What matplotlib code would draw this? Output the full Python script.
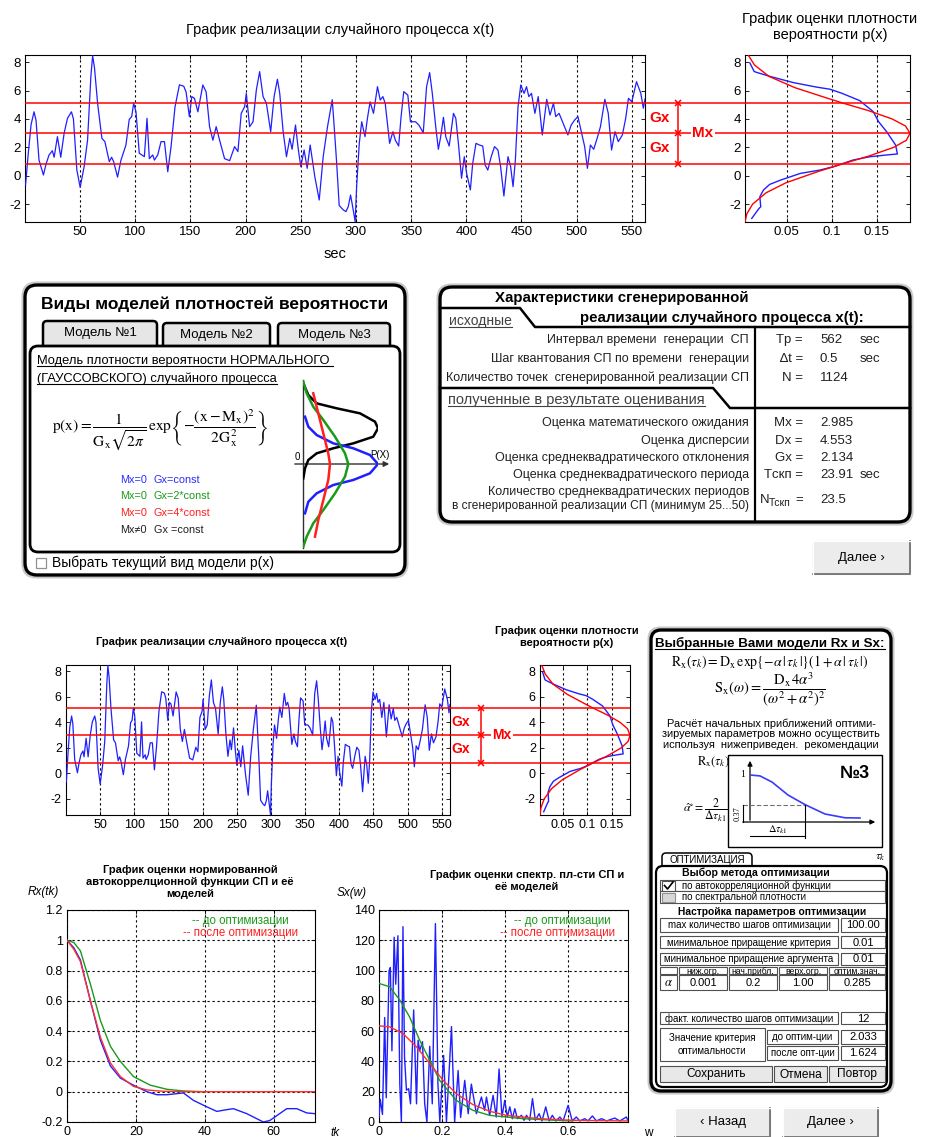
import matplotlib
matplotlib.use('Agg')
import matplotlib.pyplot as plt
from matplotlib.patches import FancyBboxPatch, Rectangle
from matplotlib.ticker import FormatStrFormatter, MultipleLocator

plt.rcParams['font.family'] = ['Liberation Sans', 'DejaVu Sans']
plt.rcParams['mathtext.fontset'] = 'stix'
plt.rcParams['axes.unicode_minus'] = False

W, H = 925, 1137

# --- realization x(t), sec / value (turning points) ---
t_sec = [0.5, 3, 5.5, 8.2, 10, 12.7, 16.7, 19, 21.8, 24.8, 26.4, 29.4, 32.4, 35.5, 38.5,
         42.1, 43.9, 47, 50, 53.6, 56.7, 59.7, 61.3, 63, 65.8, 69.7, 72.4, 76.4, 78.5, 80.3,
         83.9, 87, 91.5, 94.5, 96.7, 98.5, 100.6, 103.6, 108.2, 110.6, 112.7, 115.8, 117.3,
         120.3, 123.3, 126.4, 129.4, 132.4, 136, 140, 143.9, 146, 149, 151.2, 153.6, 156.7,
         161.2, 164.2, 167.3, 170.3, 173.3, 176.4, 180.9, 185.5, 190, 193, 196, 199.1, 200.6,
         203.6, 206.7, 209.7, 212.7, 215.8, 218.8, 222.7, 225.8, 228.8, 230.9, 234, 237, 240,
         242.1, 245.2, 247.6, 250, 253, 255.8, 258.5, 262.7, 266.7, 270.3, 274.2, 278.5,
         280.5, 282.5, 284.8, 288.4, 290.9, 293, 295.1, 297, 299.3, 300.6, 303, 305.2, 308.2,
         310.4, 312.8, 315.9, 319.5, 322, 324.4, 326.5, 330.5, 333.5, 335.7, 338.7, 340.9,
         343.3, 347, 349.4, 354, 357, 361, 364, 366.8, 369.2, 372.3, 374.7, 376.8, 379.3,
         381.4, 384.5, 388.4, 390.5, 393, 395.7, 398.2, 400.3, 403.7, 405.8, 408.8, 411.9,
         414.9, 417.1, 419.5, 422.6, 425.6, 428.7, 431.1, 434.1, 437.8, 440.2, 442.4, 444.5,
         446.9, 449.4, 452.4, 454.6, 456.7, 459.1, 462.2, 465.2, 468.9, 472.9, 475.9, 479,
         481.1, 484.1, 487.2, 492.1, 495.1, 498.2, 501.2, 504.3, 507.3, 509.8, 512.5, 515.5,
         518.6, 521.6, 525.6, 528.7, 531.7, 534.8, 537.8, 541.5, 544.5, 547, 550, 554.3,
         558.2, 560.5, 562]
x_val = [-0.65, 1.6, 3.6, 4.5, 3.9, 1.1, 0.05, 0.8, 1.46, 1.76, 1.3, 2.75, 1.3, 3.0, 4.04,
         4.5, 4.0, 0.4, -0.82, 0.64, 2.5, 6.98, 8.45, 7.6, 5.1, 2.63, 2.4, 0.99, 1.3, 1.0,
         -0.1, 1.1, 2.16, 3.97, 4.16, 5.1, 4.5, 1.58, 1.34, 4.04, 1.2, 1.46, 1.1,
         1.46, 2.4, 2.4, 0.28, 2.05, 4.86, 6.4, 6.3, 5.9, 4.16, 5.57, 5.45, 4.5,
         6.39, 5.9, 3.45, 2.5, 3.45, 2.5, 1.2, 1.06, 2.05, 1.7, 4.39, 4.86, 5.8,
         3.45, 3.8, 6.04, 7.33, 5.57, 5.1, 3.1, 5.57, 6.79, 5.8, 3.1, 1.34, 2.63,
         1.86, 3.57, 1.93, 0.64, 1.81, 0.52, 2.16, -0.07, -1.71, 1.34, 3.45, 5.35,
         3.2, 0.9, -2.1, -2.4, -2.53, -2.18, -1.36, -2.18, -3.24, -0.77, 2.28, 3.8, 2.75,
         4.04, 5.2, 4.39, 6.27, 5.33, 5.57, 5.1, 2.28, 3.1, 2.5, 2.09, 4.16,
         5.92, 5.68, 3.8, 3.8, 3.57, 3.03, 6.27, 7.26, 5.8, 3.45, 1.86, 2.75, 4.11,
         2.75, 2.09, 4.39, 4.04, 2.16, -0.18, 1.34, 0.17, -1.0, 0.85, 2.28, 2.16,
         2.09, 0.75, 0.4, 1.34, 2.05, 1.81, 0.64, -1.43, 1.34, 0.64, -0.77, 1.11,
         4.86, 6.39, 5.8, 6.27, 5.57, 5.8, 4.39, 5.57, 2.87, 5.38, 4.27, 5.1,
         4.16, 4.39, 3.8, 2.87, 3.57, 3.92, 4.16, 3.1, 2.05, 0.52, 2.16, 1.86,
         2.63, 3.45, 5.38, 4.39, 1.81, 3.1, 2.4, 2.87, 4.04, 5.45, 5.2, 6.62,
         5.8, 4.75, 5.4]

# --- probability density estimate (blue) and normal model (red) ---
hist_p = [0.009, 0.0137, 0.0167, 0.0315, 0.057, 0.083, 0.098, 0.111, 0.131, 0.146, 0.152,
          0.161, 0.171, 0.173, 0.161, 0.143, 0.124, 0.102, 0.087, 0.065, 0.043, 0.031,
          0.024, 0.020, 0.021, 0.019, 0.015, 0.011]
hist_x = [7.93, 7.34, 7.27, 6.99, 6.56, 6.24, 6.09, 5.81, 5.29, 4.52, 3.81,
          3.1, 2.16, 1.53, 1.46, 1.34, 1.11, 0.64, 0.4, 0.16, -0.31, -0.61,
          -1.01, -1.48, -2.19, -2.31, -2.66, -3.01]
norm_p = [0.007, 0.014, 0.03, 0.059, 0.093, 0.113, 0.140, 0.167, 0.182, 0.187, 0.183,
          0.169, 0.142, 0.113, 0.085, 0.049, 0.027, 0.012, 0.0054, 0.0036]
norm_x = [8.5, 7.8, 7.0, 6.2, 5.5, 5.1, 4.6, 4.0, 3.5, 2.985, 2.5,
          2.0, 1.4, 0.85, 0.3, -0.5, -1.2, -2.0, -2.7, -3.25]

# --- estimated characteristics ---
Mx, Dx, Gx = 2.985, 4.553, 2.134
Tp, dt, N = 562, 0.5, 1124
Tskp, N_Tskp = 23.91, 23.5

# --- normalized autocorrelation: estimate and models ---
rx_tk = [0, 2, 3.9, 6.8, 9.7, 12.6, 15.5, 19.3, 23.2, 26.1, 29, 33.8, 36.7, 40.6, 43.5,
         46, 48.3, 52.2, 57, 58.9, 63.8, 66.7, 69.6, 72]
rx_est = [1.0, 0.95, 0.87, 0.6, 0.34, 0.17, 0.09, 0.043, 0.0, -0.02, -0.02, -0.008, -0.057,
          -0.10, -0.13, -0.12, -0.112, -0.145, -0.2, -0.19, -0.112, -0.112, -0.14, -0.145]
rx_tk_before = [0, 2, 3.9, 6.8, 9.7, 12.6, 15.5, 19.3, 24.2, 29, 33.8, 39.6]
rx_before = [1.0, 0.985, 0.93, 0.71, 0.47, 0.30, 0.20, 0.10, 0.043, 0.016, 0.005, 0.0]
rx_tk_after = [0, 2, 3.9, 6.8, 9.7, 12.6, 15.5, 19.3, 23.2, 27, 33, 72]
rx_after = [1.0, 0.94, 0.86, 0.6, 0.36, 0.19, 0.1, 0.035, 0.012, 0.004, 0.0, 0.0]

# --- spectral density: estimate and models ---
sx_w = [0, 0.004, 0.011, 0.018, 0.023, 0.032, 0.036, 0.041, 0.048, 0.053, 0.06, 0.066,
        0.071, 0.076, 0.081, 0.087, 0.094, 0.1, 0.11, 0.119, 0.124, 0.129, 0.138, 0.145,
        0.152, 0.161, 0.169, 0.179, 0.187, 0.193, 0.205, 0.214, 0.23, 0.24, 0.251, 0.259,
        0.272, 0.283, 0.293, 0.309, 0.325, 0.335, 0.341, 0.351, 0.362, 0.372, 0.381, 0.39,
        0.399, 0.407, 0.415, 0.423, 0.431, 0.439, 0.452, 0.46, 0.468, 0.478, 0.487, 0.496,
        0.508, 0.517, 0.529, 0.54, 0.55, 0.561, 0.574, 0.584, 0.6, 0.613, 0.626, 0.637,
        0.653, 0.663, 0.677, 0.69, 0.706, 0.722, 0.748, 0.764, 0.785, 0.79]
sx_est = [3, 15, 5, 69, 16, 100, 102, 47, 122, 91, 123, 25,
          0, 129, 43, 21, 22, 12, 74, 12, 54, 47, 53, 12,
          0, 50, 12, 131, 25, 0, 44, 0, 63, 0, 34, 3,
          27.5, 5.5, 25, 5.5, 16.5, 7.7, 16.5, 4.4, 17.6, 3.3, 35, 3.3,
          14.3, 3.3, 10, 2.2, 8.8, 2.2, 4.4, 1.1, 4.4, 1.1, 15.4, 1.1,
          5.5, 0.7, 10, 0.7, 4.4, 0.7, 3.3, 0.7, 11, 0.7, 3.3, 0.7,
          2.2, 0.7, 4, 0.7, 2.2, 0.7, 2.6, 0.7, 3.3, 0.7]
sx_w_before = [0, 0.034, 0.066, 0.097, 0.129, 0.161, 0.192, 0.245, 0.298, 0.351, 0.404,
               0.457, 0.563, 0.616]
sx_before = [91.5, 89.3, 80.5, 69.4, 54, 40.8, 27.6, 14.3, 7.7, 4.4, 3.3, 2.2, 1.1, 0.7]
sx_w_after = [0, 0.034, 0.076, 0.119, 0.161, 0.203, 0.245, 0.298, 0.351, 0.404, 0.457,
              0.51, 0.616, 0.79]
sx_after = [63.5, 62.8, 58.4, 49.6, 38.6, 27.6, 18.7, 11.5, 7.1, 4.4, 3.3, 2.2, 1.1, 0.7]

# --- sketch of normal densities (vertical orientation) ---
sk_blue_p = [0.027, 0.071, 0.182, 0.404, 0.671, 0.893, 1.0, 0.893, 0.671, 0.404, 0.182, 0.071, 0.027]
sk_blue_x = [0.563, 0.444, 0.345, 0.246, 0.187, 0.107, 0, -0.111, -0.19, -0.25, -0.349, -0.449, -0.587]
sk_green_p = [0.004, 0.049, 0.137, 0.271, 0.427, 0.56, 0.604, 0.56, 0.427, 0.271, 0.137, 0.049, 0.004]
sk_green_x = [0.98, 0.842, 0.682, 0.524, 0.325, 0.127, 0, -0.151, -0.349, -0.548, -0.706, -0.865, -0.984]
sk_red_p = [0.137, 0.204, 0.271, 0.337, 0.36, 0.337, 0.271, 0.204, 0.16]
sk_red_x = [0.842, 0.603, 0.365, 0.127, 0, -0.19, -0.429, -0.667, -0.865]
sk_black_p = [0.004, 0.071, 0.182, 0.449, 0.76, 0.96, 1.0, 0.937, 0.671, 0.404, 0.182, 0.071, 0.027, 0.004]
sk_black_x = [0.96, 0.821, 0.722, 0.663, 0.603, 0.504, 0.425, 0.325, 0.246, 0.187, 0.127, 0.048, -0.05, -0.17]

# --- sketch of model Rx for initial alpha ---
sk_tau = [0, 0.08, 0.176, 0.304, 0.44, 0.6, 0.76, 0.88]
sk_r = [1.0, 0.98, 0.85, 0.574, 0.37, 0.17, 0.09, 0.085]

fig = plt.figure(figsize=(W / 100, H / 100), dpi=100)
ui = fig.add_axes([0, 0, 1, 1])
ui.set_xlim(0, W)
ui.set_ylim(H, 0)
ui.axis('off')

underlined = []


def px_axes(x0, y0, x1, y1):
    return fig.add_axes([x0 / W, 1 - y1 / H, (x1 - x0) / W, (y1 - y0) / H])


def matlab_style(ax, size):
    ax.tick_params(direction='in', length=3, width=0.6, top=True, right=True,
                   labelsize=size, pad=3)
    for s in ax.spines.values():
        s.set_linewidth(0.8)


def dotted_grid(ax, axis='both'):
    ax.grid(True, axis=axis, linestyle=(0, (2, 2.5)), color='black', lw=0.8)


def rbox(x0, y0, x1, y1, r=10, lw=2.2, fc='white', ec='black', shadow=True, z=1):
    if shadow:
        ui.add_patch(FancyBboxPatch((x0 - 2.5, y0 - 2.5), x1 - x0 + 5, y1 - y0 + 5,
                                    boxstyle=f"round,pad=0,rounding_size={r + 2}",
                                    fc='none', ec='#c8c8c8', lw=1.5, zorder=z))
    ui.add_patch(FancyBboxPatch((x0, y0), x1 - x0, y1 - y0,
                                boxstyle=f"round,pad=0,rounding_size={r}",
                                fc=fc, ec=ec, lw=lw, zorder=z))


def cell(x0, y0, x1, y1, text='', size=7, fc='white', weight='normal'):
    ui.add_patch(Rectangle((x0, y0), x1 - x0, y1 - y0, fc=fc, ec='#505050', lw=0.8, zorder=7))
    if text:
        ui.text((x0 + x1) / 2, (y0 + y1) / 2 + 0.5, text, ha='center', va='center',
                fontsize=size, weight=weight, zorder=8)


def button(x0, y0, x1, y1, label, size=9.5):
    ui.add_patch(Rectangle((x0, y0), x1 - x0, y1 - y0, fc='#ececec', ec='#c0c0c0', lw=0.8, zorder=3))
    ui.plot([x0, x1, x1], [y1, y1, y0], color='#7a7a7a', lw=1.4, zorder=4)
    ui.plot([x0, x0, x1], [y1, y0, y0], color='white', lw=1.0, zorder=4)
    ui.text((x0 + x1) / 2, (y0 + y1) / 2, label, ha='center', va='center', fontsize=size, zorder=5)


def utext(x, y, s, color='black', **kw):
    t = ui.text(x, y, s, color=color, **kw)
    underlined.append((t, color))
    return t


levels = [Mx - Gx, Mx, Mx + Gx]


def process_axes(ax, size, x_br, x_gx, x_mx, x_end, lab_size):
    ax.plot(t_sec, x_val, color='#2020ff', lw=0.9, zorder=3)
    ax.set_xlim(0, 562)
    ax.set_ylim(-3.26, 8.5)
    ax.xaxis.set_major_locator(MultipleLocator(50))
    ax.set_xticks(range(50, 551, 50))
    ax.set_yticks([-2, 0, 2, 4, 6, 8])
    dotted_grid(ax, 'x')
    matlab_style(ax, size)
    tr = ax.get_yaxis_transform()
    for lv in levels:
        ax.axhline(lv, color='red', lw=1.1, zorder=4)
        ax.plot([1, x_end], [lv, lv], transform=tr, color='red', lw=1.1, clip_on=False, zorder=4)
    ax.plot([x_br, x_br], [levels[0], levels[2]], transform=tr, color='red', lw=1.1,
            clip_on=False, zorder=5)
    ax.plot([x_br] * 3, levels, 'x', transform=tr, color='red', ms=4, mew=1.1,
            clip_on=False, zorder=6)
    ax.text(x_gx, (levels[1] + levels[2]) / 2, 'Gx', transform=tr, color='red', weight='bold',
            fontsize=lab_size, ha='center', va='center', clip_on=False)
    ax.text(x_gx, (levels[0] + levels[1]) / 2, 'Gx', transform=tr, color='red', weight='bold',
            fontsize=lab_size, ha='center', va='center', clip_on=False)
    ax.text(x_mx, levels[1], 'Mx', transform=tr, color='red', weight='bold', fontsize=lab_size,
            ha='center', va='center', clip_on=False, zorder=7,
            bbox=dict(fc='white', ec='none', pad=1))


def density_axes(ax, size):
    ax.plot(hist_p, hist_x, color='#2020ff', lw=1.0, zorder=3)
    ax.plot(norm_p, norm_x, color='red', lw=1.0, zorder=3)
    for lv in levels:
        ax.axhline(lv, color='red', lw=1.1, zorder=4)
    ax.set_xlim(0.0035, 0.187)
    ax.set_ylim(-3.26, 8.5)
    ax.set_xticks([0.05, 0.1, 0.15])
    ax.xaxis.set_major_formatter(FormatStrFormatter('%g'))
    ax.set_yticks([-2, 0, 2, 4, 6, 8])
    dotted_grid(ax, 'x')
    matlab_style(ax, size)


# ================= top: realization and density =================
ax1 = px_axes(25, 55, 645, 222)
process_axes(ax1, 9.5, (678 - 25) / 620, (660 - 25) / 620, (703 - 25) / 620, (910 - 25) / 620, 11)
ui.text(340, 30, 'График реализации случайного процесса x(t)', ha='center', va='center', fontsize=10.5)
ui.text(335, 254, 'sec', ha='center', va='center', fontsize=10.5)

ax2 = px_axes(745, 55, 910, 222)
density_axes(ax2, 9.5)
ui.text(830, 27, 'График оценки плотности\nвероятности p(x)', ha='center', va='center',
        fontsize=10.5, linespacing=1.25)

# ================= middle-left: density models panel =================
rbox(25, 285, 405, 575, r=12, lw=2.4)
ui.text(215, 304, 'Виды моделей плотностей вероятности', ha='center', va='center',
        fontsize=12.5, weight='bold', zorder=5)
for (x0, x1, y0, lab) in [(43, 157, 321, 'Модель №1'), (163, 270, 323, 'Модель №2'),
                          (278, 390, 323, 'Модель №3')]:
    ui.add_patch(FancyBboxPatch((x0, y0), x1 - x0, 30, boxstyle="round,pad=0,rounding_size=4",
                                fc='#e6e6e6', ec='black', lw=1.8, zorder=2))
    ui.text((x0 + x1) / 2, y0 + 12, lab, ha='center', va='center', fontsize=9.5, zorder=3)
rbox(30, 346, 400, 552, r=8, lw=2.0, shadow=False, z=3)
utext(37, 361, 'Модель плотности вероятности НОРМАЛЬНОГО ', fontsize=9.3, va='center', zorder=5)
utext(37, 379, '(ГАУССОВСКОГО) случайного процесса', fontsize=9.3, va='center', zorder=5)
ui.text(160, 430,
        r'$\mathrm{p(x)} = \dfrac{1}{\mathrm{G_x}\sqrt{2\pi}}\,\mathrm{exp}\left\{-\dfrac{(\mathrm{x}-\mathrm{M_x})^2}{2\mathrm{G_x^2}}\right\}$',
        ha='center', va='center', fontsize=11.2, zorder=5)
for (yy, c, a, b) in [(480, '#2a2aff', 'Mx=0', 'Gx=const'), (496, '#1a9a1a', 'Mx=0', 'Gx=2*const'),
                      (513, '#ff2020', 'Mx=0', 'Gx=4*const'), (530, '#202020', 'Mx≠0', 'Gx =const')]:
    ui.text(120, yy, a, color=c, fontsize=7.8, va='center', zorder=5)
    ui.text(154, yy, b, color=c, fontsize=7.8, va='center', zorder=5)

ui.plot([303, 303], [380, 548], color='#303030', lw=1.0, zorder=4)
ui.annotate('', xy=(392, 464), xytext=(292, 464), zorder=4,
            arrowprops=dict(arrowstyle='-|>', color='#303030', lw=1.0, mutation_scale=8))
ui.text(297, 457, '0', fontsize=7, ha='center', va='center', zorder=5)
ui.text(380, 455, 'P(X)', fontsize=7, ha='center', va='center', zorder=5)
mini = px_axes(303, 380, 378, 548)
mini.set_xlim(0, 1)
mini.set_ylim(-1, 1)
mini.axis('off')
mini.plot(sk_black_p, sk_black_x, color='black', lw=1.8)
mini.plot(sk_blue_p, sk_blue_x, color='#2020ff', lw=1.8)
mini.plot(sk_green_p, sk_green_x, color='#1a9a1a', lw=1.8)
mini.plot(sk_red_p, sk_red_x, color='#ff2020', lw=1.8)

ui.add_patch(Rectangle((36, 558), 10, 10, fc='white', ec='#909090', lw=0.9, zorder=5))
ui.text(52, 563, 'Выбрать текущий вид модели p(x)', fontsize=10, va='center', zorder=5)

# ================= middle-right: characteristics panel =================
rbox(440, 287, 910, 522, r=12, lw=2.4)
ui.text(495, 298, 'Характеристики сгенерированной', fontsize=10.8, weight='bold', va='center', zorder=5)
ui.text(580, 318, 'реализации случайного процесса x(t):', fontsize=10.8, weight='bold',
        va='center', zorder=5)
utext(449, 321, 'исходные', color='#404040', fontsize=10, va='center', zorder=5)
ui.plot([440, 520, 535, 910], [308, 308, 327, 327], color='black', lw=1.8, zorder=5)
ui.plot([440, 713, 730, 910], [388, 388, 408, 408], color='black', lw=1.8, zorder=5)
ui.plot([755, 755], [327, 521], color='black', lw=1.6, zorder=5)
utext(448, 400, 'полученные в результате оценивания', color='#404040', fontsize=10.5,
      va='center', zorder=5)

rows = [(340, 'Интервал времени  генерации  СП', 'Tp =', f'{Tp}', 'sec'),
        (359, 'Шаг квантования СП по времени  генерации', '∆t =', f'{dt}', 'sec'),
        (378, 'Количество точек  сгенерированной реализации СП', 'N =', f'{N}', ''),
        (423, 'Оценка математического ожидания', 'Mx =', f'{Mx:.3f}', ''),
        (441, 'Оценка дисперсии', 'Dx =', f'{Dx:.3f}', ''),
        (458, 'Оценка среднеквадратического отклонения', 'Gx =', f'{Gx:.3f}', ''),
        (475, 'Оценка среднеквадратического периода', 'Tскп =', f'{Tskp}', 'sec')]
for (yy, lab, sym, val, unit) in rows:
    ui.text(749, yy, lab, ha='right', va='center', fontsize=9, color='#202020', zorder=5)
    ui.text(803, yy, sym, ha='right', va='center', fontsize=9.5, color='#202020', zorder=5)
    ui.text(820, yy, val, ha='left', va='center', fontsize=9.5, color='#202020', zorder=5)
    if unit:
        ui.text(860, yy, unit, ha='left', va='center', fontsize=9.5, color='#202020', zorder=5)
ui.text(749, 492, 'Количество среднеквадратических периодов', ha='right', va='center',
        fontsize=9, color='#202020', zorder=5)
ui.text(749, 506, 'в сгенерированной реализации СП (минимум 25...50)', ha='right', va='center',
        fontsize=8.6, color='#202020', zorder=5)
ui.text(760, 500, 'N', ha='left', va='center', fontsize=9.5, color='#202020', zorder=5)
ui.text(769, 503, 'Tскп', ha='left', va='center', fontsize=7.5, color='#202020', zorder=5)
ui.text(803, 500, '=', ha='right', va='center', fontsize=9.5, color='#202020', zorder=5)
ui.text(820, 500, f'{N_Tskp}', ha='left', va='center', fontsize=9.5, color='#202020', zorder=5)

button(813, 541, 910, 574, 'Далее ›')

# ================= bottom: realization and density =================
ax3 = px_axes(66, 665, 450, 815)
process_axes(ax3, 9, (481 - 66) / 384, (461 - 66) / 384, (502 - 66) / 384, (630 - 66) / 384, 10)
ui.text(222, 642, 'График реализации случайного процесса x(t)', ha='center', va='center',
        fontsize=8, weight='bold')

ax4 = px_axes(540, 665, 630, 815)
density_axes(ax4, 9)
ui.text(567, 637, 'График оценки плотности\nвероятности p(x)', ha='center', va='center',
        fontsize=8, weight='bold', linespacing=1.3)

# ================= bottom: autocorrelation =================
ax5 = px_axes(67, 910, 315, 1122)
ax5.plot(rx_tk, rx_est, color='#2020ff', lw=1.0, zorder=3)
ax5.plot(rx_tk_before, rx_before, color='#1a9a1a', lw=1.0, zorder=3)
ax5.plot(rx_tk_after, rx_after, color='#ff3030', lw=1.0, zorder=4)
ax5.set_xlim(0, 72)
ax5.set_ylim(-0.2, 1.2)
ax5.set_xticks([0, 20, 40, 60])
ax5.set_yticks([-0.2, 0, 0.2, 0.4, 0.6, 0.8, 1.0, 1.2])
ax5.yaxis.set_major_formatter(FormatStrFormatter('%g'))
dotted_grid(ax5)
matlab_style(ax5, 9)
ax5.text(0.70, 0.948, '-- до оптимизации', transform=ax5.transAxes, color='#1a9a1a',
         fontsize=8.3, ha='center', va='center')
ax5.text(0.70, 0.893, '-- после оптимизации', transform=ax5.transAxes, color='#ff2020',
         fontsize=8.3, ha='center', va='center')
ui.text(190, 882, 'График оценки нормированной\nавтокоррелционной функции СП и её\nмоделей',
        ha='center', va='center', fontsize=8, weight='bold', linespacing=1.3)
ui.text(43, 892, 'Rx(tk)', ha='center', va='center', fontsize=8.5, style='italic')
ui.text(335, 1133, 'tk', ha='center', va='center', fontsize=8.5, style='italic')

# ================= bottom: spectral density =================
ax6 = px_axes(379, 910, 628, 1122)
ax6.plot(sx_w, sx_est, color='#2020ff', lw=1.0, zorder=3)
ax6.plot(sx_w_before, sx_before, color='#1a9a1a', lw=1.0, zorder=4)
ax6.plot(sx_w_after, sx_after, color='#ff3030', lw=1.0, zorder=4)
ax6.set_xlim(0, 0.79)
ax6.set_ylim(0, 140)
ax6.set_xticks([0, 0.2, 0.4, 0.6])
ax6.xaxis.set_major_formatter(FormatStrFormatter('%g'))
ax6.set_yticks(range(0, 141, 20))
dotted_grid(ax6)
matlab_style(ax6, 9)
ax6.text(0.735, 0.948, '-- до оптимизации', transform=ax6.transAxes, color='#1a9a1a',
         fontsize=8.3, ha='center', va='center')
ax6.text(0.715, 0.893, '-- после оптимизации', transform=ax6.transAxes, color='#ff2020',
         fontsize=8.3, ha='center', va='center')
ui.text(527, 881, 'График оценки спектр. пл-сти СП и\nеё моделей', ha='center', va='center',
        fontsize=8, weight='bold', linespacing=1.3)
ui.text(352, 893, 'Sx(w)', ha='center', va='center', fontsize=8.5, style='italic')
ui.text(648, 1133, 'w', ha='center', va='center', fontsize=8.5)

# ================= bottom-right: selected models panel =================
rbox(651, 630, 891, 1091, r=10, lw=2.4)
utext(770, 643, 'Выбранные Вами модели Rx и Sx:', fontsize=9.6, weight='bold',
      ha='center', va='center', zorder=5)
ui.text(770, 662,
        r'$\mathrm{R_x}(\tau_k) = \mathrm{D_x}\,\mathrm{exp}\{-\alpha\,|\,\tau_k\,|\}(1+\alpha\,|\,\tau_k\,|)$',
        ha='center', va='center', fontsize=10, zorder=5)
ui.text(770, 690, r'$\mathrm{S_x}(\omega) = \dfrac{\mathrm{D_x}\,4\alpha^3}{(\omega^2+\alpha^2)^2}$',
        ha='center', va='center', fontsize=10.5, zorder=5)
ui.text(771, 734, 'Расчёт начальных приближений оптими-\nзируемых параметров можно осуществить\n'
        'используя  нижеприведен.  рекомендации', ha='center', va='center', fontsize=7.9,
        linespacing=1.05, zorder=5)

ui.add_patch(Rectangle((728, 755), 154, 92, fc='white', ec='black', lw=1.0, zorder=4))
ui.annotate('', xy=(750, 758), xytext=(750, 823), zorder=5,
            arrowprops=dict(arrowstyle='-|>', color='black', lw=0.9, mutation_scale=7))
ui.annotate('', xy=(878, 822), xytext=(740, 822), zorder=5,
            arrowprops=dict(arrowstyle='-|>', color='black', lw=0.9, mutation_scale=7))
ill = px_axes(750, 763, 875, 822)
ill.set_xlim(0, 1)
ill.set_ylim(0, 1.255)
ill.axis('off')
ill.plot(sk_tau, sk_r, color='#3a3aff', lw=1.2)
ill.plot([-0.06, sk_tau[4]], [sk_r[4], sk_r[4]], color='#707070', lw=0.8, ls=(0, (4, 2)), clip_on=False)
ill.plot([sk_tau[4]] * 2, [sk_r[4], -0.34], color='black', lw=0.8, clip_on=False)
ill.plot([0, sk_tau[4]], [-0.3, -0.3], color='black', lw=0.8, clip_on=False)
ill.plot([-0.056, -0.056], [0, sk_r[4]], color='black', lw=0.8, clip_on=False)
ill.text(-0.1, 0.18, '0.37', rotation=90, fontsize=6, ha='center', va='center', clip_on=False,
         family='Liberation Serif')
ill.text(-0.06, 1.0, '1', fontsize=7, ha='center', va='center', clip_on=False, family='Liberation Serif')
ill.text(sk_tau[4] / 2, -0.16, r'$\Delta\tau_{k1}$', fontsize=7.5, ha='center', va='center', clip_on=False)
ui.text(713, 762, r'$\mathrm{R_x}(\tau_k)$', ha='center', va='center', fontsize=9, zorder=6)
ui.text(855, 773, '№3', ha='center', va='center', fontsize=13, weight='bold', zorder=6)
ui.text(706, 810, r'$\hat{\alpha}^{\circ}=\dfrac{2}{\Delta\tau_{k1}}$', ha='center', va='center',
        fontsize=8.5, zorder=6)
ui.text(880, 857, r'$\tau_k$', ha='center', va='center', fontsize=8.5, zorder=6)

ui.add_patch(FancyBboxPatch((662, 853), 90, 16, boxstyle="round,pad=0,rounding_size=4",
                            fc='white', ec='black', lw=1.1, zorder=4))
ui.text(707, 860, 'ОПТИМИЗАЦИЯ', ha='center', va='center', fontsize=7, zorder=6)
rbox(656, 866, 887, 1087, r=7, lw=1.6, shadow=False, z=5)

ui.text(756, 873, 'Выбор метода оптимизации', ha='center', va='center', fontsize=7.6,
        weight='bold', zorder=8)
cell(660, 880, 885, 891)
cell(660, 891, 885, 903)
ui.add_patch(Rectangle((662, 881), 13, 9.5, fc='white', ec='#505050', lw=0.8, zorder=8))
ui.plot([664.5, 667.5, 673], [885.5, 889, 882], color='black', lw=1.2, zorder=9)
ui.add_patch(Rectangle((662, 892.5), 13, 9.5, fc='#d8d8d8', ec='#909090', lw=0.8, zorder=8))
ui.text(682, 885.5, 'по автокорреляционной функции', va='center', fontsize=7, zorder=9)
ui.text(682, 897, 'по спектральной плотности', va='center', fontsize=7, zorder=9)
ui.text(772, 912, 'Настройка параметров оптимизации', ha='center', va='center', fontsize=7.4,
        weight='bold', zorder=8)
for (y0, y1, lab, val) in [(918, 932, 'max количество шагов оптимизации', '100.00'),
                           (936, 948, 'минимальное приращение критерия', '0.01'),
                           (953, 965, 'минимальное приращение аргумента', '0.01')]:
    cell(660, y0, 838, y1, lab, size=7)
    cell(841, y0, 885, y1, val, size=8)
for (x0, x1, head, val) in [(679, 727, 'ниж.огр.', '0.001'), (729, 777, 'нач.прибл.', '0.2'),
                            (779, 827, 'верх.огр.', '1.00'), (829, 885, 'оптим.знач.', '0.285')]:
    cell(x0, 967, x1, 974, head, size=6.2)
    cell(x0, 975, x1, 990, val, size=8)
cell(660, 967, 677, 974)
cell(660, 975, 677, 990, r'$\alpha$', size=9)
cell(660, 1012, 838, 1024, 'факт. количество шагов оптимизации', size=7)
cell(841, 1012, 885, 1024, '12', size=8)
cell(660, 1028, 765, 1061)
ui.text(712, 1038, 'Значение критерия', ha='center', va='center', fontsize=7, zorder=8)
ui.text(712, 1051, 'оптимальности', ha='center', va='center', fontsize=7, zorder=8)
cell(767, 1030, 838, 1044, 'до оптим-ции', size=7)
cell(841, 1030, 885, 1044, '2.033', size=8)
cell(767, 1046, 838, 1060, 'после опт-ции', size=7)
cell(841, 1046, 885, 1060, '1.624', size=8)
for (x0, x1, lab) in [(660, 772, 'Сохранить'), (774, 827, 'Отмена'), (829, 885, 'Повтор')]:
    cell(x0, 1066, x1, 1082, lab, size=8.6, fc='#e8e8e8')

button(675, 1108, 770, 1137, '‹ Назад')
button(783, 1108, 878, 1137, 'Далее ›')

# underline marked labels using their rendered extents
fig.canvas.draw()
renderer = fig.canvas.get_renderer()
inv = ui.transData.inverted()
for t, c in underlined:
    bb = t.get_window_extent(renderer)
    xa, ya = inv.transform((bb.x0, bb.y0))
    xb, _ = inv.transform((bb.x1, bb.y0))
    ui.plot([xa, xb], [ya - 1, ya - 1], color=c, lw=0.8, zorder=6)

fig.savefig('out.png', dpi=100)
